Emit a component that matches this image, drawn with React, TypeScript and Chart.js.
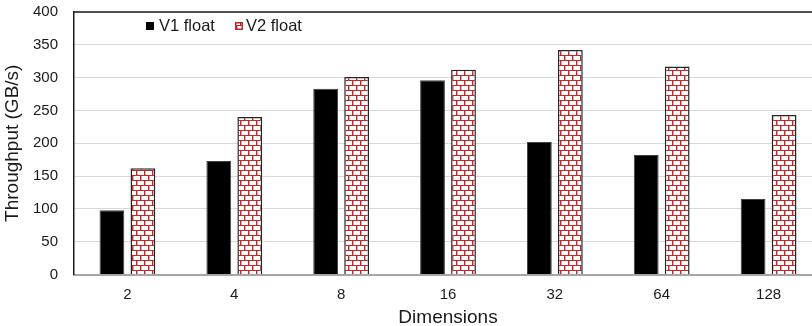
import React, { useEffect, useRef } from "react";
import { Chart, registerables } from "chart.js";

Chart.register(...registerables);

const categories = ["2", "4", "8", "16", "32", "64", "128"];
const v1Float = [98, 173, 283, 296, 202, 182, 115];
const v2Float = [162, 240, 301, 312, 342, 317, 243];
const seriesNames = ["V1 float", "V2 float"];
const yTicks = { min: 0, max: 400, step: 50 };
const FONT = "'Liberation Sans', Arial, sans-serif";

function makeBrickPattern(): CanvasPattern | string {
  const c = document.createElement("canvas");
  c.width = 8;
  c.height = 10;
  const g = c.getContext("2d");
  if (!g) return "#c0392b";
  g.fillStyle = "#ffffff";
  g.fillRect(0, 0, 8, 10);
  const red = "#c0282a";
  const pink = "#e9a3a3";
  g.fillStyle = red;
  g.fillRect(0, 0, 8, 1);
  g.fillRect(0, 5, 8, 1);
  g.fillRect(0, 1, 1, 4);
  g.fillRect(4, 6, 1, 4);
  g.fillStyle = pink;
  g.fillRect(1, 1, 1, 4);
  g.fillRect(5, 6, 1, 4);
  const p = g.createPattern(c, "repeat");
  return p || "#c0392b";
}

export default function App() {
  const ref = useRef<HTMLCanvasElement | null>(null);

  useEffect(() => {
    document.body.style.margin = "0";
    const canvas = ref.current;
    if (!canvas) return;
    const brick = makeBrickPattern();

    const frameAndLegend = {
      id: "frameAndLegend",
      afterDatasetsDraw(chart: any) {
        const { ctx, chartArea } = chart;
        ctx.save();
        ctx.strokeStyle = "#1a1a1a";
        ctx.lineWidth = 1.3;
        ctx.beginPath();
        ctx.moveTo(chartArea.left, chartArea.top);
        ctx.lineTo(chartArea.right, chartArea.top);
        ctx.stroke();
        ctx.font = `16.5px ${FONT}`;
        ctx.textBaseline = "middle";
        ctx.textAlign = "left";
        const cy = 26;
        const positions = [146, 235];
        chart.data.datasets.forEach((ds: any, i: number) => {
          const x = positions[i];
          if (i === 0) {
            ctx.fillStyle = "#000";
            ctx.fillRect(x, cy - 4, 8, 8);
          } else {
            ctx.fillStyle = brick;
            ctx.fillRect(x, cy - 4, 8, 8);
            ctx.strokeStyle = "#c0282a";
            ctx.lineWidth = 1.5;
            ctx.strokeRect(x + 0.75, cy - 3.25, 6.5, 6.5);
          }
          ctx.fillStyle = "#1a1a1a";
          ctx.fillText(ds.label, x + (i === 0 ? 13 : 11), cy);
        });
        ctx.restore();
      },
    };

    const chart = new Chart(canvas, {
      type: "bar",
      data: {
        labels: categories,
        datasets: [
          {
            label: seriesNames[0],
            data: v1Float,
            backgroundColor: "#000000",
            borderColor: "#404040",
            borderWidth: 1,
            barPercentage: 0.8,
            categoryPercentage: 0.58,
          },
          {
            label: seriesNames[1],
            data: v2Float,
            backgroundColor: brick as any,
            borderColor: "#262626",
            borderWidth: 1.5,
            barPercentage: 0.8,
            categoryPercentage: 0.58,
          },
        ],
      },
      options: {
        responsive: false,
        animation: false,
        layout: { padding: { top: 0, right: 4, bottom: 0, left: 0 } },
        plugins: {
          legend: { display: false },
          tooltip: { enabled: false },
        },
        scales: {
          x: {
            grid: { display: false, drawTicks: false },
            border: { display: true, color: "#a6a6a6", width: 2 },
            ticks: {
              color: "#1a1a1a",
              font: { family: FONT, size: 15 },
              padding: 11.5,
            },
            title: {
              display: true,
              text: "Dimensions",
              color: "#1a1a1a",
              font: { family: FONT, size: 19 },
              padding: { top: 0, bottom: 0.6 },
            },
            afterFit(scale: any) {
              scale.height = 55.5;
            },
          },
          y: {
            min: yTicks.min,
            max: yTicks.max,
            ticks: {
              stepSize: yTicks.step,
              color: "#1a1a1a",
              font: { family: FONT, size: 15 },
              padding: 3,
            },
            grid: {
              color: "#d9d9d9",
              lineWidth: 1,
              drawTicks: true,
              tickLength: 13,
              tickColor: "rgba(0,0,0,0)",
            },
            border: { display: true, color: "#1a1a1a", width: 1.5 },
            title: {
              display: true,
              text: "Throughput (GB/s)",
              color: "#1a1a1a",
              font: { family: FONT, size: 19 },
              padding: { top: 1.1, bottom: 0 },
            },
            afterFit(scale: any) {
              scale.width = 74;
            },
          },
        },
      },
      plugins: [frameAndLegend],
    });
    return () => chart.destroy();
  }, []);

  return (
    <div
      style={{
        position: "fixed",
        left: 0,
        top: 0,
        width: 812,
        height: 326,
        overflow: "hidden",
        background: "#fff",
      }}
    >
      <canvas ref={ref} width={826} height={330} style={{ display: "block" }} />
    </div>
  );
}
